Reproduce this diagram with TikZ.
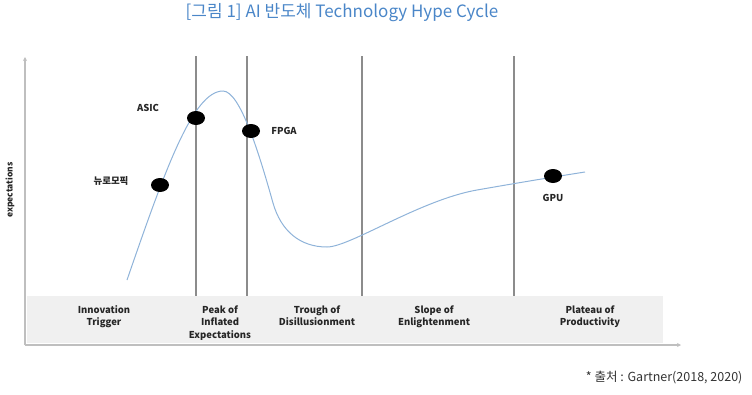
\documentclass[tikz,border=0pt]{standalone}
\usepackage{fontspec}
\setmainfont{Noto Sans CJK KR}
\usetikzlibrary{arrows.meta,shapes.geometric}
\definecolor{titleblue}{HTML}{4A86C8}
\definecolor{curveblue}{HTML}{8FB3D9}
\definecolor{boxgray}{HTML}{F0F0F0}
\definecolor{linegray}{HTML}{8C8C8C}
\begin{document}
\begin{tikzpicture}[x=1pt,y=-1pt,
  lbl/.style={font=\fontsize{9.5}{12.5}\selectfont\bfseries, align=center, text=black!85},
  dot/.style={ellipse, fill=black, minimum width=18pt, minimum height=14pt, inner sep=0pt},
  vline/.style={draw=linegray, line width=1.2pt},
  ax/.style={draw=black!25, line width=1.2pt, -{Stealth[length=4pt,width=4pt]}},
  hype/.style={draw=curveblue, line width=1pt}]
\useasboundingbox (0,0) rectangle (752,394);
\node[font=\fontsize{17}{19}\selectfont, text=titleblue] (title) at (342,13) {[그림 1] AI 반도체 Technology Hype Cycle};
% gray box
\fill[boxgray] (27,296) rectangle (663,343);
% vertical lines
\coordinate (v1t) at (196,56); \coordinate (v1b) at (196,296);
\coordinate (v2t) at (247,56); \coordinate (v2b) at (247,296);
\coordinate (v3t) at (362,56); \coordinate (v3b) at (362,296);
\coordinate (v4t) at (514,56); \coordinate (v4b) at (514,296);
\draw[vline] (v1t) -- (v1b);
\draw[vline] (v2t) -- (v2b);
\draw[vline] (v3t) -- (v3b);
\draw[vline] (v4t) -- (v4b);
% axes
\coordinate (o) at (25,345);
\coordinate (ytop) at (25,57);
\coordinate (xend) at (681,345);
\draw[ax] (o) -- (ytop);
\draw[ax] (o) -- (xend);
% curve
\coordinate (c0) at (127,280);
\coordinate (cpeak) at (223,91);
\coordinate (cfall) at (273,203);
\coordinate (ctrough) at (327,247);
\coordinate (cslope) at (477,190);
\coordinate (cend) at (585,172);
\draw[hype] (c0) .. controls (165,170) and (193,91) .. (cpeak)
  .. controls (240,91) and (259,153) .. (cfall)
  .. controls (281,231) and (300,247) .. (ctrough)
  .. controls (350,247) and (420,200) .. (cslope)
  .. controls (520,182.5) and (550,177.5) .. (cend);
% dots
\node[dot] (neuro) at (160,185) {};
\node[dot] (asic) at (196,118) {};
\node[dot] (fpga) at (251,131) {};
\node[dot] (gpu) at (553,176) {};
\node[lbl] (neurol) at (111,181) {뉴로모픽};
\node[lbl] (asicl) at (148,108) {ASIC};
\node[lbl] (fpgal) at (284,131) {FPGA};
\node[lbl] (gpul) at (553,198) {GPU};
\node[lbl, font=\fontsize{8.5}{10}\selectfont\bfseries, rotate=90] (expl) at (10,190) {expectations};
% stages
\node[lbl, anchor=north] (s1) at (104,302) {Innovation\\Trigger};
\node[lbl, anchor=north] (s2) at (220,302) {Peak of\\Inflated\\Expectations};
\node[lbl, anchor=north] (s3) at (317,302) {Trough of\\Disillusionment};
\node[lbl, anchor=north] (s4) at (434,302) {Slope of\\Enlightenment};
\node[lbl, anchor=north] (s5) at (590,302) {Plateau of\\Productivity};
% source
\node[font=\fontsize{12.5}{14}\selectfont, text=black!80, anchor=east] (src) at (746,378) {* 출처 : Gartner(2018, 2020)};
\end{tikzpicture}
\end{document}
